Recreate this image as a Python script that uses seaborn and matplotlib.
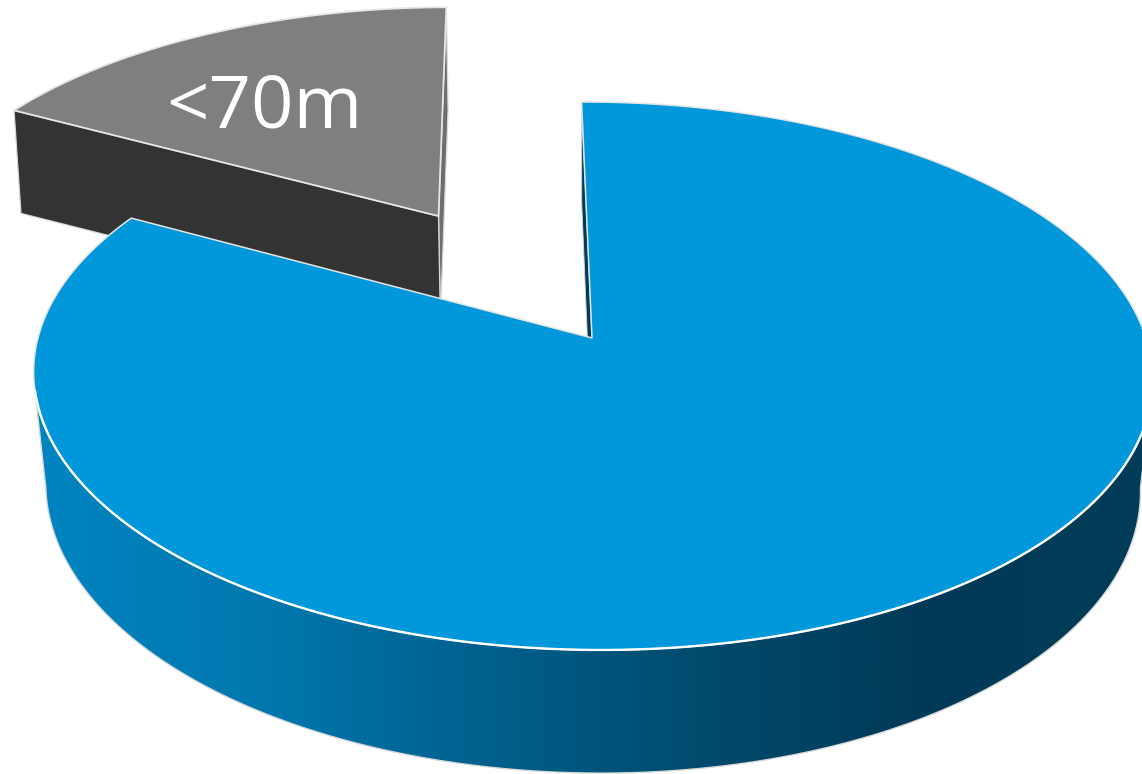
import numpy as np
import matplotlib
matplotlib.use("Agg")
import matplotlib.pyplot as plt
from matplotlib.patches import Polygon
import seaborn as sns

# Shares of the pie, in percent; only the first slice carries a label
slice_labels = ["<70m", ""]
slice_shares = [17, 83]

top_colors = ["#7f7f7f", "#0098da"]
wall_colors = ["#333333", "#003c5a"]
rim_gradient = ["#0085c2", "#0078af", "#00618e", "#004b6e", "#003a58", "#003c58"]

START_ANGLE = 90.4
EXPLODE = 0.5637
EXPLODE_SHIFT = -0.2
CENTER_X, CENTER_Y = 592.0, 338.0
RADIUS_X, RADIUS_Y = 554.0, 268.7
SKEW = 8.0
PERSPECTIVE = 0.1387
LIFTED_DEPTH = 103.0

sns.set_theme(style="white")
plt.rcParams["font.family"] = ["Open Sans", "DejaVu Sans"]


def top_plane(u, v):
    """Perspective projection of the pie's upper face."""
    u, v = np.asarray(u), np.asarray(v)
    w = 1 - PERSPECTIVE * v
    return CENTER_X + (RADIUS_X * u + SKEW * v) / w, CENTER_Y + RADIUS_Y * v / w


def lower_plane(u, v):
    """Perspective projection of the pie's lower face."""
    u, v = np.asarray(u), np.asarray(v)
    w = 1 - PERSPECTIVE * v
    return CENTER_X + (542.0 * u + SKEW * v) / w, 448.0 + 280.0 * v / w


def lifted_lower(u, v):
    """Lower face of the pulled-out slice."""
    x, y = top_plane(u, v)
    return CENTER_X + (x - CENTER_X) * 0.988, y + LIFTED_DEPTH


def unit(angle_deg):
    a = np.radians(angle_deg)
    return np.cos(a), -np.sin(a)


def stack(points):
    return np.column_stack(points)


fig = plt.figure(figsize=(11.42, 7.74), dpi=100, facecolor="white")
ax = fig.add_axes([0, 0, 1, 1])
ax.set_xlim(0, 1142)
ax.set_ylim(774, 0)
ax.axis("off")

sweeps = np.array(slice_shares) * 3.6
lift_start, lift_end = START_ANGLE, START_ANGLE + sweeps[0]
lift_mid = (lift_start + lift_end) / 2
off_u, off_v = unit(lift_mid + EXPLODE_SHIFT)
off_u, off_v = off_u * EXPLODE, off_v * EXPLODE

# Pulled-out slice: hidden side wall, front wall, then the upper face
rim_a = unit(lift_start)
rim_b = unit(lift_end)
apex_top = top_plane(off_u, off_v)
apex_low = lifted_lower(off_u, off_v)
a_top = top_plane(off_u + rim_a[0], off_v + rim_a[1])
a_low = lifted_lower(off_u + rim_a[0], off_v + rim_a[1])
b_top = top_plane(off_u + rim_b[0], off_v + rim_b[1])
b_low = lifted_lower(off_u + rim_b[0], off_v + rim_b[1])

ax.add_patch(Polygon([a_top, apex_top, apex_low, a_low], closed=True,
                     fc="#6e6e6e", ec="#d9d9d9", lw=0.9, zorder=1))
ax.add_patch(Polygon([apex_top, b_top, b_low, apex_low], closed=True,
                     fc=wall_colors[0], ec="#d9d9d9", lw=0.9, zorder=2))
t = np.radians(np.linspace(lift_start, lift_end, 120))
arc_x, arc_y = top_plane(off_u + np.cos(t), off_v - np.sin(t))
face = np.vstack([stack((arc_x, arc_y)), [apex_top]])
ax.add_patch(Polygon(face, closed=True, fc=top_colors[0], ec="#e6e6e6",
                     lw=1.3, joinstyle="miter", zorder=3))

# Main slice: cut wall behind the start edge
main_start = lift_end
main_end = START_ANGLE + 360
rim_s = unit(main_end)
ax.add_patch(Polygon([top_plane(*rim_s), top_plane(0, 0), lower_plane(0, 0),
                      lower_plane(*rim_s)], closed=True,
                     fc=wall_colors[1], ec="#d0d0d0", lw=0.7, zorder=4))

# Outer wall with its horizontal shading, clipped to the silhouette
front_top = np.radians(np.linspace(191, 350, 300))
front_low = np.radians(np.linspace(188, 352, 300))
tx, ty = top_plane(np.cos(front_top), -np.sin(front_top))
lx, ly = lower_plane(np.cos(front_low), -np.sin(front_low))
outline = np.vstack([stack((tx, ty)), stack((lx, ly))[::-1]])
wall_patch = Polygon(outline, closed=True, fc="none", ec="#d8d8d8", lw=1.0, zorder=6)
ax.add_patch(wall_patch)
shade = sns.blend_palette(rim_gradient, as_cmap=True)
img = ax.imshow(np.linspace(0, 1, 600)[None, :], cmap=shade, aspect="auto",
                extent=(30, 1142, 774, 0), zorder=5)
img.set_clip_path(wall_patch)
ax.set_xlim(0, 1142)
ax.set_ylim(774, 0)

# Main slice: upper face, with a brighter line along the front rim
t = np.radians(np.linspace(main_start, main_end, 600))
arc_x, arc_y = top_plane(np.cos(t), -np.sin(t))
face = np.vstack([stack((arc_x, arc_y)), [top_plane(0, 0)]])
ax.add_patch(Polygon(face, closed=True, fc=top_colors[1], ec="#e4e4e4",
                     lw=1.1, joinstyle="miter", zorder=7))
rim_t = np.radians(np.linspace(191, 362, 400))
ax.plot(*top_plane(np.cos(rim_t), -np.sin(rim_t)), color="white", lw=1.7,
        solid_capstyle="round", zorder=8)

# Label sits on the upper face of its slice
label_u, label_v = unit(lift_start + sweeps[0] * 0.60)
lx_txt, ly_txt = top_plane(off_u + 0.61 * label_u, off_v + 0.61 * label_v)
ax.text(lx_txt, ly_txt, slice_labels[0], color="white", fontsize=53.5,
        ha="center", va="center", zorder=9)

fig.savefig("out.png", dpi=100, facecolor="white")
